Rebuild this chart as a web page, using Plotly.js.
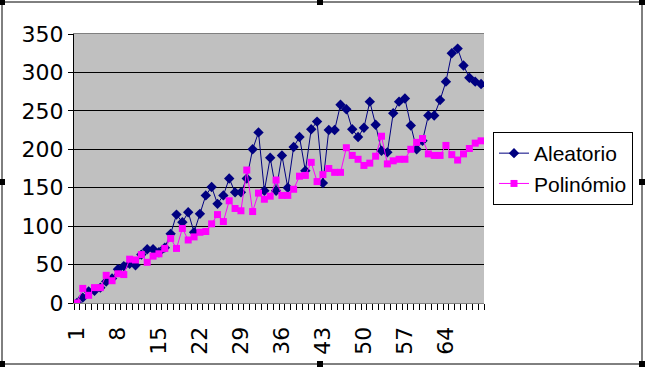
<!DOCTYPE html>
<html>
<head>
<meta charset="utf-8">
<script src="https://cdn.plot.ly/plotly-3.0.1.min.js"></script>
<style>
html,body{margin:0;padding:0;background:#ffffff;}
#chart{width:647px;height:367px;}
</style>
</head>
<body>
<div id="chart"></div>
<script>
var categories = [1,2,3,4,5,6,7,8,9,10,11,12,13,14,15,16,17,18,19,20,
  21,22,23,24,25,26,27,28,29,30,31,32,33,34,35,36,37,38,39,40,
  41,42,43,44,45,46,47,48,49,50,51,52,53,54,55,56,57,58,59,60,
  61,62,63,64,65,66,67,68,69,70];
var aleatorio = [0,7,15,16,20,28,32,44,48,51,49,63,70,70,66,72,90,115,105,118,
  92,116,140,151,129,140,162,144,144,162,200,222,146,189,146,192,150,203,216,172,
  226,236,156,225,225,258,252,226,216,228,262,232,198,196,247,262,266,231,200,211,
  244,244,264,288,325,331,309,293,288,285];
var polinomio = [0,19,10,20,20,36,29,38,37,57,56,63,53,61,64,71,84,71,97,82,
  86,92,93,103,115,106,133,123,120,173,119,143,135,139,160,140,140,148,165,166,
  183,158,167,175,170,170,202,192,187,179,182,191,217,181,185,187,187,200,209,214,
  194,192,192,205,193,186,194,201,208,211];
var tickLabels = ["1","8","15","22","29","36","43","50","57","64"];
var tickPositions = [1,8,15,22,29,36,43,50,57,64];
var yTicks = [0,50,100,150,200,250,300,350];

var FONT = 'Arial, "Liberation Sans", sans-serif';
var TICKFONT = '"DejaVu Sans", Arial, sans-serif';

var traces = [
  {x: categories, y: aleatorio, name: 'Aleatorio', type: 'scatter', mode: 'lines+markers',
   line: {color: '#000080', width: 1},
   marker: {symbol: 'diamond', size: 8, color: '#000080'}},
  {x: categories, y: polinomio, name: 'Polinómio', type: 'scatter', mode: 'lines+markers',
   line: {color: '#FF00FF', width: 1},
   marker: {symbol: 'square', size: 7, color: '#FF00FF'}}
];

// plot area pixel geometry
var L = 74, R = 484, T = 34, B = 303;
function px(x){ return (x - L) / (R - L); }
function py(y){ return (B - y) / (B - T); }
var shapes = [
  {type: 'rect', xref: 'paper', yref: 'paper', x0: px(2), x1: px(642), y0: py(364), y1: py(2),
   line: {color: '#000000', width: 1}, layer: 'below'}
];
var handles = [[2,2],[320,2],[642,2],[2,182],[642,182],[2,364],[320,364],[642,364]];
handles.forEach(function(h){
  shapes.push({type: 'rect', xref: 'paper', yref: 'paper',
    x0: px(h[0]-3), x1: px(h[0]+3), y0: py(h[1]+3), y1: py(h[1]-3),
    fillcolor: '#000000', line: {width: 0}});
});

var layout = {
  width: 647, height: 367,
  margin: {l: L, r: 647 - R, t: T, b: 367 - B, pad: 0},
  paper_bgcolor: '#ffffff',
  plot_bgcolor: '#C0C0C0',
  font: {family: FONT, size: 22, color: '#000000'},
  showlegend: true,
  legend: {
    x: px(493), y: py(132), xanchor: 'left', yanchor: 'top',
    bgcolor: '#ffffff', bordercolor: '#000000', borderwidth: 1,
    font: {family: FONT, size: 21, color: '#000000'},
    traceorder: 'normal'
  },
  xaxis: {
    range: [0.5, 70.5],
    tickmode: 'array', tickvals: tickPositions, ticktext: tickLabels,
    tickangle: -90, ticks: '', showgrid: false, zeroline: false,
    showline: true, linecolor: '#808080', linewidth: 1, mirror: true,
    ticklabelstandoff: 14,
    tickfont: {family: TICKFONT, size: 22, color: '#000000'},
    minor: {tick0: 0.5, dtick: 1, ticks: 'outside', ticklen: 6, tickcolor: '#000000', tickwidth: 1, showgrid: false},
    fixedrange: true
  },
  yaxis: {
    range: [0, 350],
    tickmode: 'array', tickvals: yTicks,
    ticks: 'outside', ticklen: 5, tickcolor: '#000000',
    showgrid: true, gridcolor: '#000000', gridwidth: 1,
    zeroline: false,
    showline: true, linecolor: '#000000', linewidth: 1,
    tickfont: {family: TICKFONT, size: 22, color: '#000000'},
    fixedrange: true
  },
  shapes: shapes
};

Plotly.newPlot('chart', traces, layout, {displayModeBar: false, staticPlot: true});
</script>
</body>
</html>
